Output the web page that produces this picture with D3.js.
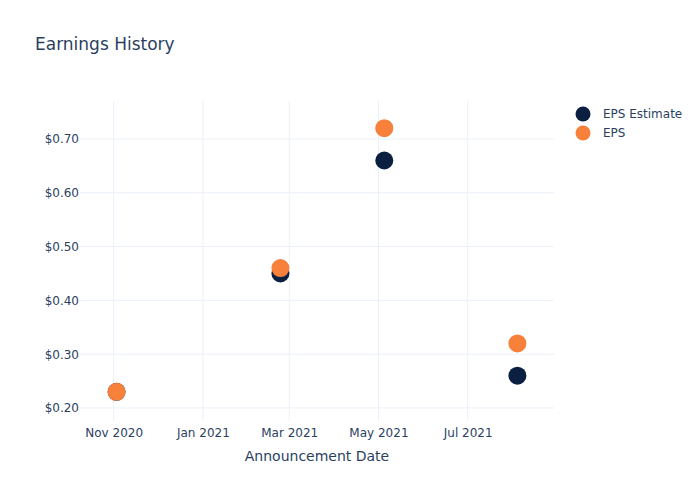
<!DOCTYPE html>
<html><head><meta charset="utf-8">
<script src="https://cdn.jsdelivr.net/npm/d3@7"></script>
<style>body{margin:0;background:#fff;} text{font-family:"DejaVu Sans",Verdana,sans-serif;}</style>
</head><body>
<svg id="c" width="700" height="500"></svg>
<script>
const dates = ["2020-11-03","2021-02-23","2021-05-05","2021-08-04"];
const epsEstimate = [0.23, 0.45, 0.66, 0.26];
const eps = [0.23, 0.46, 0.72, 0.32];
const yTicks = [0.2,0.3,0.4,0.5,0.6,0.7];
const xTicks = ["2020-11-01","2021-01-01","2021-03-01","2021-05-01","2021-07-01"];
const seriesNames = ["EPS Estimate","EPS"];
const colors = ["#0b1f41","#f7803a"];

const parse = d3.utcParse("%Y-%m-%d");
const svg = d3.select("#c");
const L=80,R=554,T=101,B=421;
const x = d3.scaleUtc().domain([parse("2020-10-09"), parse("2021-08-29")]).range([L,R]);
const y = d3.scaleLinear().domain([0.1758,0.7706]).range([B,T]);

// grid
svg.append("g").selectAll("line").data(xTicks).join("line")
  .attr("x1",d=>x(parse(d))).attr("x2",d=>x(parse(d))).attr("y1",T).attr("y2",B)
  .attr("stroke","#ebf0f8").attr("stroke-width",1);
svg.append("g").selectAll("line").data(yTicks).join("line")
  .attr("x1",L).attr("x2",R).attr("y1",d=>y(d)).attr("y2",d=>y(d))
  .attr("stroke","#ebf0f8").attr("stroke-width",1);

// axes
const yAxis = d3.axisLeft(y).tickValues(yTicks).tickFormat(d=>"$"+d.toFixed(2)).tickSize(0).tickPadding(1);
const gy = svg.append("g").attr("transform",`translate(${L},0)`).call(yAxis);
gy.select(".domain").remove();
gy.selectAll("text").attr("fill","#2a3f5f").style("font-size","12px");

const xAxis = d3.axisBottom(x).tickValues(xTicks.map(parse)).tickFormat(d3.utcFormat("%b %Y")).tickSize(0).tickPadding(8);
const gx = svg.append("g").attr("transform",`translate(0,${B-1})`).call(xAxis);
gx.select(".domain").remove();
gx.selectAll("text").attr("fill","#2a3f5f").style("font-size","12px");

// points
[epsEstimate, eps].forEach((vals,i)=>{
  svg.append("g").selectAll("circle").data(vals).join("circle")
    .attr("cx",(d,j)=>x(parse(dates[j]))).attr("cy",d=>y(d)).attr("r",9)
    .attr("fill",colors[i]);
});

// title
svg.append("text").attr("x",35).attr("y",50).text("Earnings History")
  .attr("fill","#2a3f5f").style("font-size","17px");
svg.append("text").attr("x",(L+R)/2).attr("y",461).attr("text-anchor","middle")
  .text("Announcement Date").attr("fill","#2a3f5f").style("font-size","14px");

// legend
const lg = svg.append("g");
seriesNames.forEach((n,i)=>{
  lg.append("circle").attr("cx",583).attr("cy",114+19*i).attr("r",7.5).attr("fill",colors[i]);
  lg.append("text").attr("x",603).attr("y",118+19*i).text(n).attr("fill","#2a3f5f").style("font-size","12px");
});
</script>
</body></html>
